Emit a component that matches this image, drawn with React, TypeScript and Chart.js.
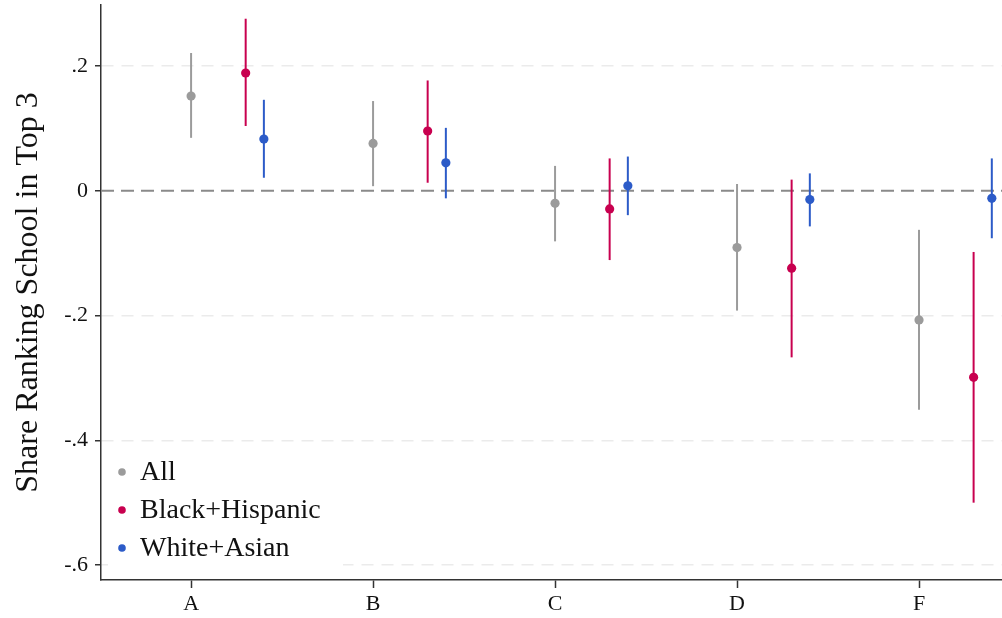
import React, { useEffect, useRef } from "react";
import { Chart, registerables } from "chart.js";

Chart.register(...registerables);

const categories = ["A", "B", "C", "D", "F"];
const seriesNames = ["All", "Black+Hispanic", "White+Asian"];
const seriesColors = ["#9b9b9b", "#c8004f", "#2c5bc8"];
const seriesOffsets = [0, 0.3, 0.4];

const allEst = [0.152, 0.076, -0.02, -0.091, -0.207];
const allLo = [0.085, 0.0075, -0.081, -0.192, -0.351];
const allHi = [0.221, 0.144, 0.04, 0.011, -0.0625];

const bhEst = [0.189, 0.096, -0.029, -0.124, -0.299];
const bhLo = [0.104, 0.013, -0.111, -0.267, -0.5];
const bhHi = [0.276, 0.177, 0.052, 0.018, -0.098];

const waEst = [0.083, 0.045, 0.008, -0.014, -0.012];
const waLo = [0.021, -0.012, -0.039, -0.057, -0.076];
const waHi = [0.146, 0.101, 0.055, 0.028, 0.052];

const yTicks = [-0.6, -0.4, -0.2, 0, 0.2];
const yTitle = "Share Ranking School in Top 3";

const estimates = [allEst, bhEst, waEst];
const lows = [allLo, bhLo, waLo];
const highs = [allHi, bhHi, waHi];

const FONT = "'Times New Roman', 'Liberation Serif', serif";

function fmtY(v: number) {
  if (Math.abs(v) < 1e-9) return "0";
  const s = Math.abs(v).toFixed(1).replace(/^0/, "");
  return (v < 0 ? "-" : "") + s;
}

const errorBarPlugin = {
  id: "errorBars",
  beforeDatasetsDraw(chart: any) {
    const { ctx, chartArea, scales } = chart;
    const x = scales.x;
    const y = scales.y;
    ctx.save();
    // zero line
    ctx.strokeStyle = "#8a8a8a";
    ctx.lineWidth = 2;
    ctx.setLineDash([13, 7]);
    const y0 = y.getPixelForValue(0);
    ctx.beginPath();
    ctx.moveTo(chartArea.left, y0);
    ctx.lineTo(chartArea.right, y0);
    ctx.stroke();
    ctx.setLineDash([]);
    // error bars
    chart.data.datasets.forEach((ds: any) => {
      ctx.strokeStyle = ds.backgroundColor;
      ctx.lineWidth = 2;
      ds.lo.forEach((lo: number, i: number) => {
        const px = x.getPixelForValue(ds.data[i].x);
        ctx.beginPath();
        ctx.moveTo(px, y.getPixelForValue(lo));
        ctx.lineTo(px, y.getPixelForValue(ds.hi[i]));
        ctx.stroke();
      });
    });
    ctx.restore();
  },
  afterDraw(chart: any) {
    const { ctx, chartArea } = chart;
    ctx.save();
    const boxL = chartArea.left + 7;
    const boxT = chartArea.bottom - 130;
    ctx.fillStyle = "#ffffff";
    ctx.fillRect(boxL, boxT, 235, 122);
    ctx.font = `28px ${FONT}`;
    ctx.textBaseline = "middle";
    ctx.textAlign = "left";
    seriesNames.forEach((name, i) => {
      const cy = chartArea.bottom - 108 + i * 38;
      ctx.fillStyle = seriesColors[i];
      ctx.beginPath();
      ctx.arc(chartArea.left + 21, cy, 3.8, 0, Math.PI * 2);
      ctx.fill();
      ctx.fillStyle = "#111111";
      ctx.fillText(name, chartArea.left + 39, cy + 1);
    });
    ctx.restore();
  },
};

export default function App() {
  const ref = useRef<HTMLCanvasElement | null>(null);
  useEffect(() => {
    if (!ref.current) return;
    const datasets = seriesNames.map((name, si) => ({
      label: name,
      data: estimates[si].map((v, i) => ({ x: i + 1 + seriesOffsets[si], y: v })),
      lo: lows[si],
      hi: highs[si],
      backgroundColor: seriesColors[si],
      borderColor: seriesColors[si],
      pointRadius: 4.6,
      pointBorderWidth: 0,
      showLine: false,
      clip: false,
    }));
    const chart = new Chart(ref.current, {
      type: "scatter",
      data: { datasets: datasets as any },
      plugins: [errorBarPlugin],
      options: {
        animation: false,
        responsive: false,
        layout: { autoPadding: false, padding: { top: 5, right: 0, left: 0, bottom: 0 } },
        plugins: { legend: { display: false }, tooltip: { enabled: false } },
        scales: {
          x: {
            type: "linear",
            min: 0.505,
            max: 5.456,
            afterBuildTicks: (s: any) => {
              s.ticks = categories.map((_, i) => ({ value: i + 1 }));
            },
            afterFit: (s: any) => {
              s.height = 38;
              s.paddingLeft = 0;
              s.paddingRight = 0;
            },
            ticks: {
              callback: (v: any) => categories[Math.round(v) - 1] ?? "",
              font: { family: FONT, size: 22 },
              color: "#111111",
              padding: 3,
              maxRotation: 0,
              autoSkip: false,
            },
            grid: {
              drawOnChartArea: false,
              drawTicks: true,
              tickLength: 8,
              tickColor: "#333333",
              tickWidth: 1.5,
            },
            border: { display: true, color: "#333333", width: 1.5 },
          },
          y: {
            type: "linear",
            min: -0.624,
            max: 0.298,
            afterBuildTicks: (s: any) => {
              s.ticks = yTicks.map((v) => ({ value: v }));
            },
            afterFit: (s: any) => {
              s.width = 101;
              s.paddingTop = 0;
              s.paddingBottom = 0;
            },
            ticks: {
              callback: (v: any) => fmtY(Number(v)),
              font: { family: FONT, size: 22 },
              color: "#111111",
              padding: 7,
            },
            grid: {
              color: (c: any) => (c.tick && Math.abs(c.tick.value) < 1e-9 ? "rgba(0,0,0,0)" : "#ebebeb"),
              lineWidth: 1.5,
              tickLength: 6,
              tickColor: "#333333",
              tickWidth: 1.5,
            },
            border: { display: true, color: "#333333", width: 1.5, dash: [12, 8] },
            title: {
              display: true,
              text: yTitle,
              font: { family: FONT, size: 32 },
              color: "#111111",
              padding: { top: 9, bottom: 0 },
            },
          },
        },
      } as any,
    });
    return () => chart.destroy();
  }, []);
  return (
    <div style={{ position: "fixed", left: 0, top: 0, width: 1002, height: 618, background: "#fff" }}>
      <canvas ref={ref} width={1002} height={618} style={{ display: "block" }} />
    </div>
  );
}
